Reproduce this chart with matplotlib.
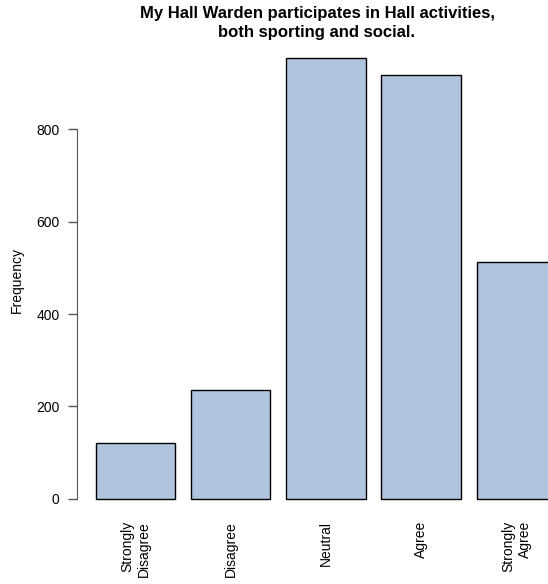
import matplotlib.pyplot as plt
import numpy as np

plt.rcParams.update({'font.family': ['Liberation Sans', 'DejaVu Sans'], 'font.size': 10})

categories = ['Strongly\nDisagree', 'Disagree', 'Neutral', 'Agree', 'Strongly\nAgree']
freq = [120, 235, 953, 916, 512]
yticks = [0, 200, 400, 600, 800]

width = 1.0
space = 0.2
left = space + (width + space) * np.arange(len(freq))
mids = left + width / 2

fig = plt.figure(figsize=(5.48, 5.84), dpi=100)
ax = fig.add_axes([77 / 548, (584 - 516.6) / 584, 471 / 548, (516.6 - 40.7) / 584])

ax.bar(left, freq, width=width, align='edge', color='lightsteelblue',
       edgecolor='black', linewidth=1.0)

ax.set_xlim(-0.035, -0.035 + 471 / 79.4)
ymin = -0.04 * max(freq)
ax.set_ylim(ymin, 1.04 * max(freq))

for s in ['top', 'right', 'bottom']:
    ax.spines[s].set_visible(False)
ax.spines['left'].set_bounds(0, 800)
ax.spines['left'].set_color('#555555')
ax.set_yticks(yticks)
ax.tick_params(axis='y', length=6.5, width=1.0, color='#555555', pad=6)
ax.set_xticks([])

for m, lab in zip(mids, categories):
    ax.annotate(lab, xy=(m, ymin), xytext=(0, -3), textcoords='offset points',
                rotation=90, ha='center', va='top', multialignment='right',
                fontsize=10, linespacing=1.25)

fig.text(17 / 548, 1 - 280 / 584, 'Frequency', rotation=90,
         ha='center', va='center', fontsize=10)

fig.text(317 / 548, 1 - 6 / 584,
         'My Hall Warden participates in Hall activities,\nboth sporting and social.',
         ha='center', va='top', fontsize=12, fontweight='bold', linespacing=1.35)

fig.savefig('out.png', dpi=100)
